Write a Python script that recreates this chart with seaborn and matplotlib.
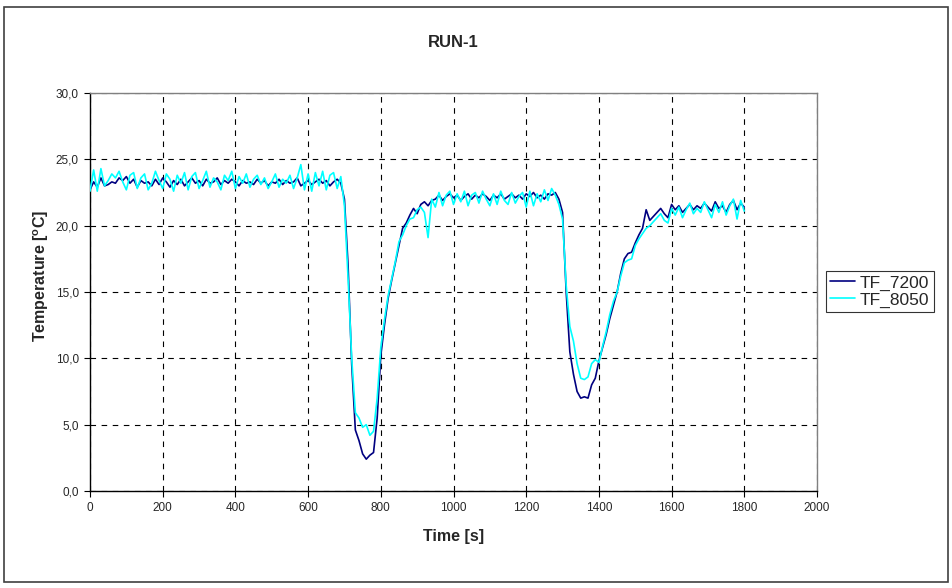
import numpy as np
import pandas as pd
import matplotlib
matplotlib.use("Agg")
import matplotlib.pyplot as plt
from matplotlib.patches import Rectangle
from matplotlib.ticker import FuncFormatter, MultipleLocator
import seaborn as sns

# Time axis of the logged run, seconds
time_s = list(range(0, 1801, 10))

# Thermocouple TF_7200 [°C]
tf_7200 = [
    22.7, 23.3, 22.9, 23.6, 23.0, 23.1, 23.3, 23.2, 23.6, 23.4,
    23.7, 23.2, 23.5, 22.9, 23.4, 23.2, 23.3, 23.0, 23.5, 23.1,
    23.6, 23.3, 22.9, 23.4, 23.1, 23.5, 23.0, 23.3, 23.6, 23.2,
    23.4, 23.0, 23.5, 23.2, 23.3, 23.6, 23.1, 23.4, 23.2, 23.5,
    23.3, 23.0, 23.4, 23.2, 23.3, 23.1, 23.5, 23.2, 23.4, 23.0,
    23.3, 23.2, 23.5, 23.1, 23.4, 23.2, 23.3, 23.6, 23.0, 23.2,
    23.4, 23.1, 23.3, 23.5, 23.2, 23.4, 23.0, 23.3, 23.5, 23.2,
    22.0, 17.0, 9.5, 4.6, 3.8, 2.8, 2.4, 2.7, 2.9, 5.5,
    10.2, 12.5, 14.5, 15.9, 17.2, 18.5, 19.8, 20.2, 20.8, 21.3,
    20.9, 21.6, 21.8, 21.5, 21.9, 22.0, 22.3, 21.9, 22.2, 22.4,
    22.1, 22.3, 21.9, 22.2, 22.4, 22.0, 22.3, 22.1, 22.4, 22.2,
    21.9, 22.3, 22.1, 22.4, 22.0, 22.2, 22.4, 22.1, 22.3, 22.0,
    22.4, 22.2, 22.5, 22.1, 22.3, 22.0, 22.4, 22.3, 22.5, 22.0,
    21.0, 15.0, 10.5, 8.8, 7.5, 7.0, 7.1, 7.0, 8.0, 8.5,
    9.8, 10.8, 11.8, 13.0, 14.0, 15.0, 16.4, 17.5, 17.9, 18.0,
    18.7, 19.3, 19.8, 21.2, 20.4, 20.7, 21.0, 21.3, 20.9, 20.6,
    21.6, 21.2, 21.5, 21.0, 21.3, 21.6, 21.2, 21.5, 21.3, 21.7,
    21.4, 21.1, 21.8, 21.3, 21.5, 21.0, 21.6, 21.9, 21.2, 21.7,
    21.4,
]

# Thermocouple TF_8050 [°C]
tf_8050 = [
    22.6, 24.2, 22.6, 24.3, 23.0, 23.4, 23.9, 23.6, 24.1, 23.3,
    22.7, 23.8, 24.0, 22.8, 23.6, 23.9, 22.7, 23.2, 24.1, 23.4,
    22.8, 23.9, 23.5, 22.6, 23.8, 23.2, 24.0, 22.7, 23.7, 24.0,
    22.8, 23.4, 24.1, 22.9, 23.6, 23.3, 22.7, 23.8, 23.4, 24.1,
    22.8, 23.7, 23.2, 23.9, 22.9, 23.5, 23.8, 23.1, 23.6, 22.8,
    23.3, 23.9, 22.9, 23.5, 23.2, 23.8, 22.8, 23.6, 24.6, 22.7,
    23.9, 22.6, 24.0, 23.0, 24.1, 22.7, 23.8, 24.0, 22.8, 23.7,
    21.5, 16.0, 10.0, 5.9, 5.5, 4.8, 5.0, 4.2, 4.5, 7.0,
    10.8, 12.9, 14.7, 16.0, 17.3, 18.8, 19.3, 20.0, 20.5, 20.6,
    21.2, 21.4, 21.0, 19.1, 22.0, 21.4, 22.5, 21.5, 22.3, 22.6,
    21.6, 22.4, 21.8, 22.6, 21.5, 22.3, 22.5, 21.7, 22.6, 22.0,
    21.5, 22.4, 21.6, 22.6, 21.9, 21.6, 22.5, 21.7, 22.2, 22.5,
    21.4, 22.6, 21.5, 22.4, 21.8, 22.7, 21.9, 22.8, 22.3, 21.6,
    20.5, 15.5, 12.4, 11.3, 9.6, 8.5, 8.4, 8.6, 9.6, 9.9,
    9.7, 10.9, 12.0, 13.3, 14.3, 15.0, 16.2, 17.2, 17.4, 17.5,
    18.5, 19.0, 19.4, 19.8, 20.0, 20.3, 20.6, 20.9, 20.4, 20.2,
    21.3, 20.8, 21.4, 20.6, 21.2, 21.7, 20.9, 21.3, 21.0, 21.8,
    21.2, 20.6, 21.6, 21.0, 21.8, 20.8, 21.5, 22.0, 20.5, 21.9,
    21.1,
]

series_names = ["TF_7200", "TF_8050"]
series_colors = ["#000080", "#00FFFF"]

df = pd.DataFrame({
    "Time": time_s * 2,
    "Temperature": tf_7200 + tf_8050,
    "Sensor": [series_names[0]] * len(time_s) + [series_names[1]] * len(time_s),
})

sns.set_style("white")
plt.rcParams["font.family"] = ["Liberation Sans", "DejaVu Sans"]
plt.rcParams["mathtext.fontset"] = "custom"
plt.rcParams["mathtext.rm"] = "Liberation Sans"
plt.rcParams["mathtext.bf"] = "Liberation Sans:bold"

fig = plt.figure(figsize=(9.52, 5.88), dpi=100)
ax = fig.add_axes([90 / 952, 97 / 588, 727 / 952, 398 / 588])

sns.lineplot(
    data=df, x="Time", y="Temperature", hue="Sensor",
    palette=dict(zip(series_names, series_colors)),
    linewidth=1.2, ax=ax, legend=False, zorder=3,
)

ax.set_xlim(0, 2000)
ax.set_ylim(0, 30)
ax.xaxis.set_major_locator(MultipleLocator(200))
ax.yaxis.set_major_locator(MultipleLocator(5))
ax.yaxis.set_major_formatter(FuncFormatter(lambda v, _: f"{v:.1f}".replace(".", ",")))

ax.grid(True, color="black", linestyle=(0, (5, 5)), linewidth=0.8)
ax.set_axisbelow(True)

for side in ("left", "bottom"):
    ax.spines[side].set_color("black")
    ax.spines[side].set_linewidth(1.0)
for side in ("top", "right"):
    ax.spines[side].set_color("#808080")
    ax.spines[side].set_linewidth(1.0)

ax.tick_params(axis="both", which="major", direction="out", length=4,
               width=0.8, color="black", labelsize=8.5, pad=4,
               left=True, bottom=True)

ax.set_xlabel("Time [s]", fontsize=11.5, fontweight="bold", labelpad=11)
ax.set_ylabel(r"Temperature [$\mathbf{^{o}}$C]", fontsize=11.5,
              fontweight="bold")
ax.yaxis.set_label_coords(-0.053, 0.54)
ax.set_title("RUN-1", fontsize=12, fontweight="bold", pad=33)

handles = [plt.Line2D([], [], color=c, linewidth=1.2) for c in series_colors]
leg = fig.legend(
    handles, series_names, loc="upper left",
    bbox_to_anchor=(826 / 952, 1 - 271 / 588),
    frameon=True, fancybox=False, edgecolor="black", fontsize=12.5,
    handlelength=1.4, handletextpad=0.3, borderpad=0.25,
    labelspacing=0.1, borderaxespad=0,
)
leg.get_frame().set_linewidth(0.8)

# Outer chart-area frame
fig.patches.append(Rectangle((4 / 952, 6 / 588), 944 / 952, 575 / 588,
                             transform=fig.transFigure, fill=False,
                             edgecolor="#404040", linewidth=1.2))

fig.savefig("out.png", dpi=100)
